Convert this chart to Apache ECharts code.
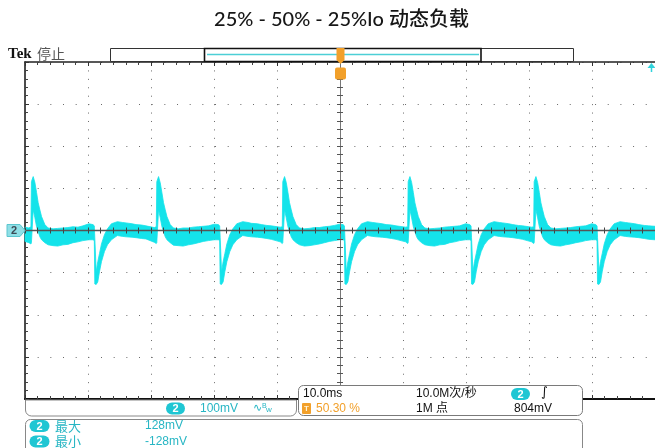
<!DOCTYPE html>
<html>
<head>
<meta charset="utf-8">
<script src="https://cdn.jsdelivr.net/npm/echarts@6.0.0/dist/echarts.min.js"></script>
<style>
  html, body { margin: 0; padding: 0; background: #fff; }
  #scope { width: 655px; height: 448px; }
</style>
</head>
<body>
<div id="scope"></div>
<script>
// ---- readout texts ----
const titleText = '25% - 50% - 25%Io 动态负载';
const channelName = '2';
const verticalScale = '100mV';
const timebase = '10.0ms';
const sampleRate = '10.0M次/秒';
const triggerPosition = '50.30 %';
const recordLength = '1M 点';
const triggerLevel = '804mV';
const measureNames = ['最大', '最小'];
const measureValues = ['128mV', '-128mV'];

// ---- axes: 10 horizontal divisions of 10 ms, 8 vertical divisions of 100 mV ----
const timeMin = -50, timeMax = 50, timeStep = 10;
const voltMin = -400, voltMax = 400, voltStep = 100;

// ---- channel 2 trace envelope: [time ms, upper mV, lower mV] ----
const traceEnvelope = [
  [-50.00, 8, -26],
  [-49.38, 6, -29], [-49.06, 9, -32], [-48.98, 116, -29], [-48.70, 128, 49],
  [-48.43, 114, 30], [-48.16, 90, 9], [-47.91, 66, -3], [-47.64, 49, -15],
  [-47.37, 33, -22], [-46.85, 14, -29], [-46.33, 6, -34], [-45.54, 4, -36],
  [-44.80, 5, -37], [-43.96, 6, -34], [-43.20, 7, -33], [-42.38, 9, -29],
  [-41.60, 8, -27], [-40.80, 11, -24], [-39.85, 16, -22],
  [-39.21, 14, -22], [-39.00, 11, -24], [-38.92, -17, -127], [-38.70, -98, -128],
  [-38.45, -74, -122], [-38.18, -55, -98], [-37.86, -32, -74], [-37.39, -10, -50],
  [-36.91, 4, -34], [-36.28, 16, -22], [-35.34, 21, -12], [-34.50, 19, -14],
  [-33.96, 18, -15], [-33.00, 16, -16], [-32.38, 14, -17], [-31.50, 13, -19],
  [-30.80, 11, -20],
  [-29.48, 7, -28], [-29.16, 9, -31], [-29.08, 116, -29], [-28.80, 128, 49],
  [-28.53, 113, 30], [-28.26, 89, 9], [-28.01, 66, -3], [-27.74, 49, -15],
  [-27.47, 33, -22], [-26.95, 14, -29], [-26.43, 6, -35], [-25.64, 4, -36],
  [-24.90, 6, -37], [-24.06, 6, -34], [-23.30, 8, -32], [-22.48, 9, -29],
  [-21.70, 10, -26], [-20.90, 11, -24], [-19.95, 15, -22],
  [-19.31, 14, -22], [-19.10, 11, -24], [-19.02, -17, -127], [-18.80, -98, -128],
  [-18.55, -74, -122], [-18.28, -55, -98], [-17.96, -32, -74], [-17.49, -10, -50],
  [-17.01, 4, -34], [-16.38, 16, -22], [-15.44, 21, -12], [-14.60, 19, -14],
  [-14.06, 17, -15], [-13.10, 16, -16], [-12.48, 14, -17], [-11.60, 12, -19],
  [-10.90, 11, -21],
  [-9.48, 8, -27], [-9.16, 9, -31], [-9.08, 116, -29], [-8.80, 128, 49],
  [-8.53, 114, 30], [-8.26, 90, 9], [-8.01, 66, -3], [-7.74, 49, -15],
  [-7.47, 33, -22], [-6.95, 14, -29], [-6.43, 6, -34], [-5.64, 4, -37],
  [-4.90, 5, -36], [-4.06, 7, -34], [-3.30, 7, -32], [-2.48, 9, -29],
  [-1.70, 10, -26], [-0.90, 12, -24], [-0.05, 15, -22],
  [0.49, 14, -22], [0.70, 11, -24], [0.78, -17, -127], [1.00, -98, -128],
  [1.25, -74, -122], [1.52, -55, -98], [1.84, -32, -74], [2.31, -10, -50],
  [2.79, 4, -34], [3.42, 16, -22], [4.36, 21, -12], [5.20, 19, -14],
  [5.74, 18, -15], [6.70, 16, -16], [7.32, 14, -17], [8.20, 13, -19],
  [8.90, 11, -21],
  [10.42, 8, -27], [10.74, 9, -31], [10.82, 116, -29], [11.10, 128, 49],
  [11.37, 114, 30], [11.64, 90, 9], [11.89, 66, -3], [12.16, 49, -15],
  [12.43, 33, -22], [12.95, 14, -29], [13.47, 6, -34], [14.26, 4, -36],
  [15.00, 5, -37], [15.84, 6, -34], [16.60, 8, -33], [17.42, 9, -29],
  [18.20, 10, -27], [19.00, 11, -24], [19.95, 16, -22],
  [20.59, 14, -22], [20.80, 11, -24], [20.88, -17, -127], [21.10, -98, -128],
  [21.35, -74, -122], [21.62, -55, -98], [21.94, -32, -74], [22.41, -10, -50],
  [22.89, 4, -34], [23.52, 16, -22], [24.46, 21, -12], [25.30, 19, -14],
  [25.84, 18, -15], [26.80, 16, -16], [27.42, 14, -17], [28.30, 12, -19],
  [29.00, 11, -21],
  [30.42, 8, -27], [30.74, 9, -31], [30.82, 116, -29], [31.10, 128, 49],
  [31.37, 114, 30], [31.64, 90, 9], [31.89, 66, -3], [32.16, 49, -15],
  [32.43, 33, -22], [32.95, 14, -29], [33.47, 6, -34], [34.26, 4, -36],
  [35.00, 5, -37], [35.84, 6, -34], [36.60, 7, -32], [37.42, 9, -29],
  [38.20, 10, -27], [39.00, 11, -24], [39.95, 16, -22],
  [40.59, 14, -22], [40.80, 11, -24], [40.88, -17, -127], [41.10, -98, -128],
  [41.35, -74, -122], [41.62, -55, -98], [41.94, -32, -74], [42.41, -10, -50],
  [42.89, 4, -34], [43.52, 16, -22], [44.46, 21, -12], [45.30, 19, -14],
  [45.84, 18, -15], [46.80, 16, -16], [47.42, 14, -17], [48.30, 12, -19],
  [49.00, 11, -21], [50.00, 10, -22]
];

// ---- styling ----
const TRACE = '#14e3ea';
const CYAN_TEXT = '#27b6c4';
const BADGE = '#1fc6d3';
const ORANGE = '#f2a02a';
const UI_FONT = '"Liberation Sans", "Noto Sans CJK SC", sans-serif';

const grid = { left: 25, top: 62, width: 633.4, height: 337 };
const minorY = grid.height / ((voltMax - voltMin) / voltStep) / 5;
const minorX = grid.width / ((timeMax - timeMin) / timeStep) / 5;

function timeAxis(extra) {
  return Object.assign({
    type: 'value', min: timeMin, max: timeMax, interval: timeStep,
    axisLabel: { show: false },
    splitLine: { show: false }
  }, extra);
}
function voltAxis(extra) {
  return Object.assign({
    type: 'value', min: voltMin, max: voltMax, interval: voltStep,
    axisLabel: { show: false },
    splitLine: { show: false }
  }, extra);
}

const chart = echarts.init(document.getElementById('scope'), null, { renderer: 'canvas' });

chart.setOption({
  animation: false,
  backgroundColor: '#fff',
  grid: grid,
  xAxis: [
    // bottom frame + vertical dotted graticule
    timeAxis({
      position: 'bottom',
      axisLine: { onZero: false, lineStyle: { color: '#111', width: 2 } },
      axisTick: { inside: true, length: 4, lineStyle: { color: '#333' } },
      minorTick: { show: true, splitNumber: 5, length: 3, lineStyle: { color: '#444' } },
      splitLine: { show: true, lineStyle: { color: '#6a6a6a', width: 1, type: [1, minorY - 1] } }
    }),
    // top frame
    timeAxis({
      position: 'top',
      axisLine: { onZero: false, lineStyle: { color: '#222', width: 1.5 } },
      axisTick: { inside: true, length: 4, lineStyle: { color: '#333' } },
      minorTick: { show: true, splitNumber: 5, length: 3, lineStyle: { color: '#444' } }
    }),
    // centre horizontal line, ticks on both sides
    timeAxis({
      position: 'bottom', z: 10,
      axisLine: { onZero: true, onZeroAxisIndex: 0, lineStyle: { color: '#555', width: 1.3 } },
      axisTick: { inside: false, length: 3, lineStyle: { color: '#444' } },
      minorTick: { show: true, splitNumber: 5, length: 3, lineStyle: { color: '#444' } }
    }),
    timeAxis({
      position: 'top', z: 10,
      axisLine: { show: false, onZero: true, onZeroAxisIndex: 0 },
      axisTick: { inside: false, length: 3, lineStyle: { color: '#444' } },
      minorTick: { show: true, splitNumber: 5, length: 3, lineStyle: { color: '#444' } }
    })
  ],
  yAxis: [
    // left frame + horizontal dotted graticule
    voltAxis({
      position: 'left',
      axisLine: { onZero: false, lineStyle: { color: '#111', width: 1.5 } },
      axisTick: { inside: true, length: 4, lineStyle: { color: '#333' } },
      minorTick: { show: true, splitNumber: 5, length: 3, lineStyle: { color: '#444' } },
      splitLine: { show: true, lineStyle: { color: '#6a6a6a', width: 1, type: [1, minorX - 1] } }
    }),
    // centre vertical line
    voltAxis({
      position: 'left', z: 10,
      axisLine: { onZero: true, onZeroAxisIndex: 0, lineStyle: { color: '#777', width: 1 } },
      axisTick: { inside: false, length: 3, lineStyle: { color: '#555' } },
      minorTick: { show: true, splitNumber: 5, length: 3, lineStyle: { color: '#555' } }
    }),
    voltAxis({
      position: 'right', z: 10,
      axisLine: { show: false, onZero: true, onZeroAxisIndex: 0 },
      axisTick: { inside: false, length: 3, lineStyle: { color: '#555' } },
      minorTick: { show: true, splitNumber: 5, length: 3, lineStyle: { color: '#555' } }
    })
  ],
  series: [{
    type: 'custom',
    name: 'CH2',
    xAxisIndex: 0, yAxisIndex: 0,
    silent: true,
    z: 2,
    data: [[timeMin, 0]],
    renderItem: function (params, api) {
      const pts = [];
      for (let i = 0; i < traceEnvelope.length; i++) {
        pts.push(api.coord([traceEnvelope[i][0], traceEnvelope[i][1]]));
      }
      for (let i = traceEnvelope.length - 1; i >= 0; i--) {
        pts.push(api.coord([traceEnvelope[i][0], traceEnvelope[i][2]]));
      }
      return {
        type: 'polygon',
        shape: { points: pts },
        style: { fill: TRACE, stroke: TRACE, lineWidth: 0.8 }
      };
    }
  }]
});

// ---- screen furniture: title, status bar, markers, readout panels ----
const zeroPx = chart.convertToPixel({ gridIndex: 0 }, [0, 0]);
const cx = Math.round(zeroPx[0]) + 0.5;
const cy = zeroPx[1];

function txt(x, y, text, opts) {
  return Object.assign({
    type: 'text', x: x, y: y, z: 100,
    style: Object.assign({ text: text, fill: '#111', font: '12px ' + UI_FONT,
      align: 'left', verticalAlign: 'middle' }, opts || {})
  });
}
function badge(x, y, w, h, label) {
  return {
    type: 'group', x: x, y: y, z: 100,
    children: [
      { type: 'rect', z: 100, shape: { x: 0, y: 0, width: w, height: h, r: h / 2 }, style: { fill: BADGE } },
      { type: 'text', z: 101, x: w / 2, y: h / 2 + 0.5,
        style: { text: label, fill: '#fff', font: 'bold 11px ' + UI_FONT, align: 'center', verticalAlign: 'middle' } }
    ]
  };
}

const g = [];
// heading, centred over the graticule
g.push(txt(cx + 1, 20, titleText, { font: '500 20px Lato, "Noto Sans CJK SC", sans-serif', fill: '#161616', align: 'center' }));

// Tek 停止
g.push(txt(8, 54, 'Tek', { font: 'bold 15px "Liberation Serif", serif', fill: '#111' }));
g.push(txt(37, 54, '停止', { font: '14px "Noto Sans CJK SC", sans-serif', fill: '#555' }));

// record overview bar
g.push({ type: 'rect', z: 100, shape: { x: 110.5, y: 48.5, width: 463, height: 13 }, style: { fill: '#fff', stroke: '#333', lineWidth: 1 } });
g.push({ type: 'rect', z: 100, shape: { x: 204.5, y: 48.5, width: 276.5, height: 13 }, style: { fill: '#fff', stroke: '#111', lineWidth: 1.6 } });
g.push({ type: 'line', z: 101, shape: { x1: 207, y1: 54.5, x2: 479, y2: 54.5 }, style: { stroke: '#4ccfd6', lineWidth: 1.5 } });

// trigger position markers
g.push({ type: 'polygon', z: 102, shape: { points: [[cx - 4, 48], [cx + 4, 48], [cx + 4, 60], [cx, 64], [cx - 4, 60]] }, style: { fill: ORANGE } });
g.push(txt(cx, 55, 'T', { font: 'bold 9px ' + UI_FONT, fill: '#fff3d6', align: 'center' }));
g.push({ type: 'rect', z: 102, shape: { x: cx - 5.5, y: 67.5, width: 11, height: 12, r: 2 }, style: { fill: ORANGE } });
g.push(txt(cx, 74, 'T', { font: 'bold 10px ' + UI_FONT, fill: '#fff3d6', align: 'center', z: 103 }));

// channel 2 ground marker
g.push({ type: 'polygon', z: 100, shape: { points: [[7, cy - 6], [20, cy - 6], [25, cy], [20, cy + 6], [7, cy + 6]] },
  style: { fill: '#8fdfe6', stroke: '#5cc6cf', lineWidth: 1 } });
g.push(txt(14, cy + 0.5, channelName, { font: 'bold 11px ' + UI_FONT, fill: '#3c4a55', align: 'center' }));

// trigger level off-screen arrow
g.push({ type: 'polygon', z: 100, shape: { points: [[647.5, 68], [651.5, 63], [655.5, 68]] }, style: { fill: '#2fd3dc' } });
g.push({ type: 'line', z: 100, shape: { x1: 651.5, y1: 67, x2: 651.5, y2: 72 }, style: { stroke: '#2fd3dc', lineWidth: 1.5 } });

// vertical readout panel
g.push({ type: 'rect', z: 99, shape: { x: 25.5, y: 400, width: 271, height: 16, r: [0, 0, 6, 6] }, style: { fill: '#fff', stroke: '#888', lineWidth: 1 } });
g.push(badge(166, 402.5, 19, 12, channelName));
g.push(txt(200, 409, verticalScale, { fill: CYAN_TEXT }));
g.push(txt(253, 408, '∿', { fill: CYAN_TEXT, font: '11px "DejaVu Sans", sans-serif' }));
g.push(txt(262, 406, 'B', { fill: CYAN_TEXT, font: '7px ' + UI_FONT }));
g.push(txt(266, 410, 'w', { fill: CYAN_TEXT, font: '8px ' + UI_FONT }));

// horizontal / trigger readout panel
g.push({ type: 'rect', z: 99, shape: { x: 298.5, y: 385.5, width: 284, height: 30, r: 5 }, style: { fill: '#fff', stroke: '#7a7a7a', lineWidth: 1 } });
g.push(txt(303, 394, timebase));
g.push(txt(416, 394, sampleRate));
g.push(badge(511, 388, 19, 12, channelName));
g.push(txt(541, 393, '∫', { font: '13px "DejaVu Sans", sans-serif' }));
g.push({ type: 'rect', z: 100, shape: { x: 302, y: 403, width: 9, height: 11, r: 1 }, style: { fill: ORANGE } });
g.push(txt(306.5, 408.5, 'T', { font: 'bold 8px ' + UI_FONT, fill: '#fff3d6', align: 'center', z: 101 }));
g.push(txt(316, 409, triggerPosition, { fill: ORANGE }));
g.push(txt(416, 409, recordLength));
g.push(txt(514, 409, triggerLevel));

// measurement panel
g.push({ type: 'rect', z: 99, shape: { x: 25.5, y: 419.5, width: 557, height: 40, r: 5 }, style: { fill: '#fff', stroke: '#888', lineWidth: 1 } });
for (let i = 0; i < measureNames.length; i++) {
  const y = 426 + i * 15.5;
  g.push(badge(29.5, y - 6, 20, 12, channelName));
  g.push(txt(55, y, measureNames[i], { fill: CYAN_TEXT, font: '13px "Noto Sans CJK SC", sans-serif' }));
  g.push(txt(145, y, measureValues[i], { fill: CYAN_TEXT }));
}

chart.setOption({ graphic: g });
</script>
</body>
</html>
